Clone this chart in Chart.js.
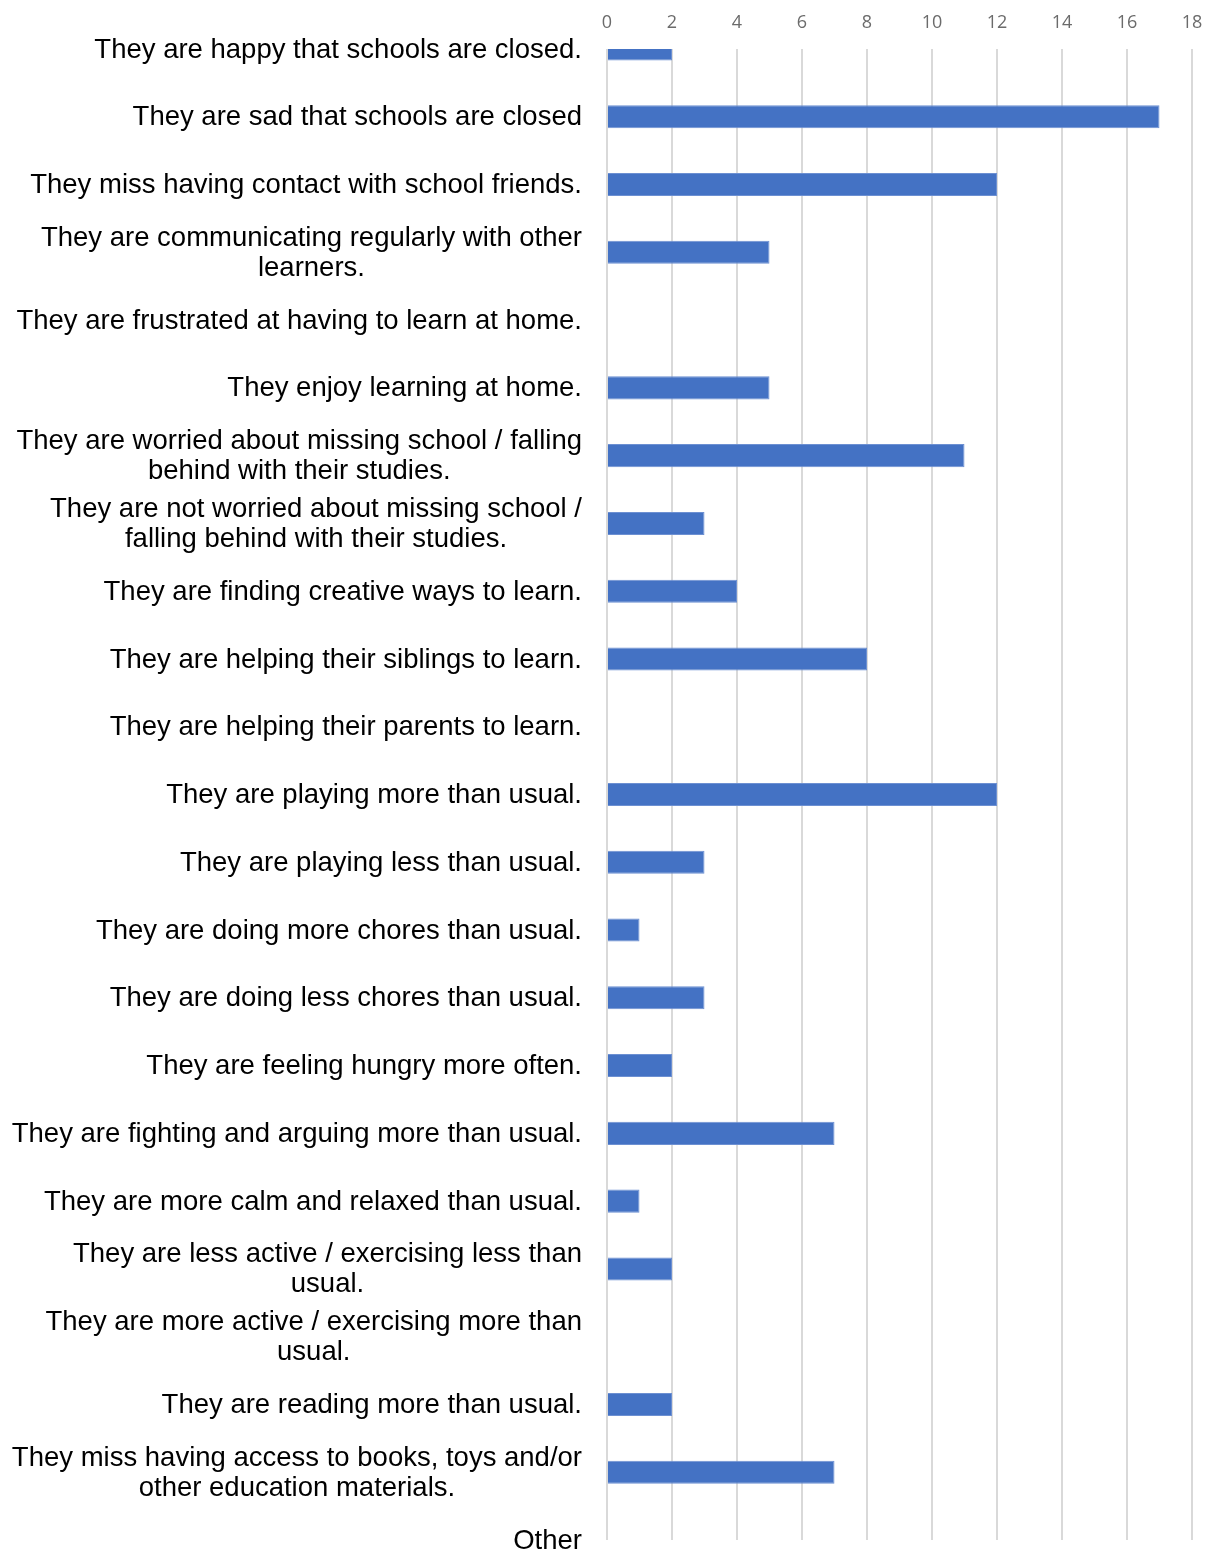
<!DOCTYPE html>
<html>
<head>
<meta charset="utf-8">
<script src="https://cdn.jsdelivr.net/npm/chart.js@4.4.1/dist/chart.umd.min.js"></script>
<style>
  html, body { margin: 0; padding: 0; background: #fff; overflow: hidden; }
  #wrap { width: 1208px; height: 1550px; position: relative; }
  #chart { display: block; }
</style>
</head>
<body>
<div id="wrap"><canvas id="chart"></canvas></div>
<script>
const categories = [
    'They are happy that schools are closed.',
    'They are sad that schools are closed',
    'They miss having contact with school friends.',
    ['They are communicating regularly with other', 'learners.'],
    'They are frustrated at having to learn at home.',
    'They enjoy learning at home.',
    ['They are worried about missing school / falling', 'behind with their studies.'],
    ['They are not worried about missing school /', 'falling behind with their studies.'],
    'They are finding creative ways to learn.',
    'They are helping their siblings to learn.',
    'They are helping their parents to learn.',
    'They are playing more than usual.',
    'They are playing less than usual.',
    'They are doing more chores than usual.',
    'They are doing less chores than usual.',
    'They are feeling hungry more often.',
    'They are fighting and arguing more than usual.',
    'They are more calm and relaxed than usual.',
    ['They are less active / exercising less than', 'usual.'],
    ['They are more active / exercising more than', 'usual.'],
    'They are reading more than usual.',
    ['They miss having access to books, toys and/or', 'other education materials.'],
    'Other'
];
const counts = [2, 17, 12, 5, 0, 5, 11, 3, 4, 8, 0, 12, 3, 1, 3, 2, 7, 1, 2, 0, 2, 7, 0];
const xTicks = [0, 2, 4, 6, 8, 10, 12, 14, 16, 18];

// Excel-style category labels: right aligned block, lines centred inside it
const categoryLabels = {
    id: 'categoryLabels',
    afterDraw(chart) {
        const ctx = chart.ctx;
        const yScale = chart.scales.y;
        const rightEdge = chart.chartArea.left - 25;
        const lineGap = 30;
        ctx.save();
        ctx.font = '27.5px "Liberation Sans", Arial, sans-serif';
        ctx.fillStyle = '#000000';
        ctx.textAlign = 'center';
        ctx.textBaseline = 'middle';
        categories.forEach((label, i) => {
            const lines = Array.isArray(label) ? label : [label];
            const widest = Math.max(...lines.map(l => ctx.measureText(l).width));
            const cx = rightEdge - widest / 2;
            const cy = yScale.getPixelForTick(i) + 1;
            lines.forEach((line, j) => {
                ctx.fillText(line, cx, cy + (j - (lines.length - 1) / 2) * lineGap);
            });
        });
        ctx.restore();
    }
};

const ctx = document.getElementById('chart').getContext('2d');
const chart = new Chart(ctx, {
    type: 'bar',
    data: {
        labels: categories,
        datasets: [{
            data: counts,
            backgroundColor: '#4472c4',
            borderColor: '#6d90d2',
            borderWidth: 1,
            categoryPercentage: 1,
            barPercentage: 0.34,
            clip: 0
        }]
    },
    options: {
        indexAxis: 'y',
        responsive: true,
        maintainAspectRatio: false,
        animation: false,
        layout: {
            padding: { left: 607, right: 16, top: 0, bottom: 10 }
        },
        plugins: {
            legend: { display: false },
            tooltip: { enabled: false }
        },
        scales: {
            x: {
                position: 'top',
                min: 0,
                max: 18,
                afterBuildTicks(scale) {
                    scale.ticks = xTicks.map(v => ({ value: v }));
                },
                afterFit(scale) {
                    scale.height = 49;
                    scale.paddingLeft = 0;
                    scale.paddingRight = 0;
                },
                ticks: {
                    padding: 15,
                    color: '#6b6b6b',
                    font: { family: '"Open Sans", Lato, sans-serif', size: 18 }
                },
                grid: {
                    color: '#d9d9d9',
                    lineWidth: 2,
                    drawTicks: false
                },
                border: { display: false }
            },
            y: {
                offset: false,
                afterFit(scale) {
                    scale.width = 0;
                },
                ticks: { display: false },
                grid: { display: false },
                border: { display: false }
            }
        }
    },
    plugins: [categoryLabels]
});
</script>
</body>
</html>
